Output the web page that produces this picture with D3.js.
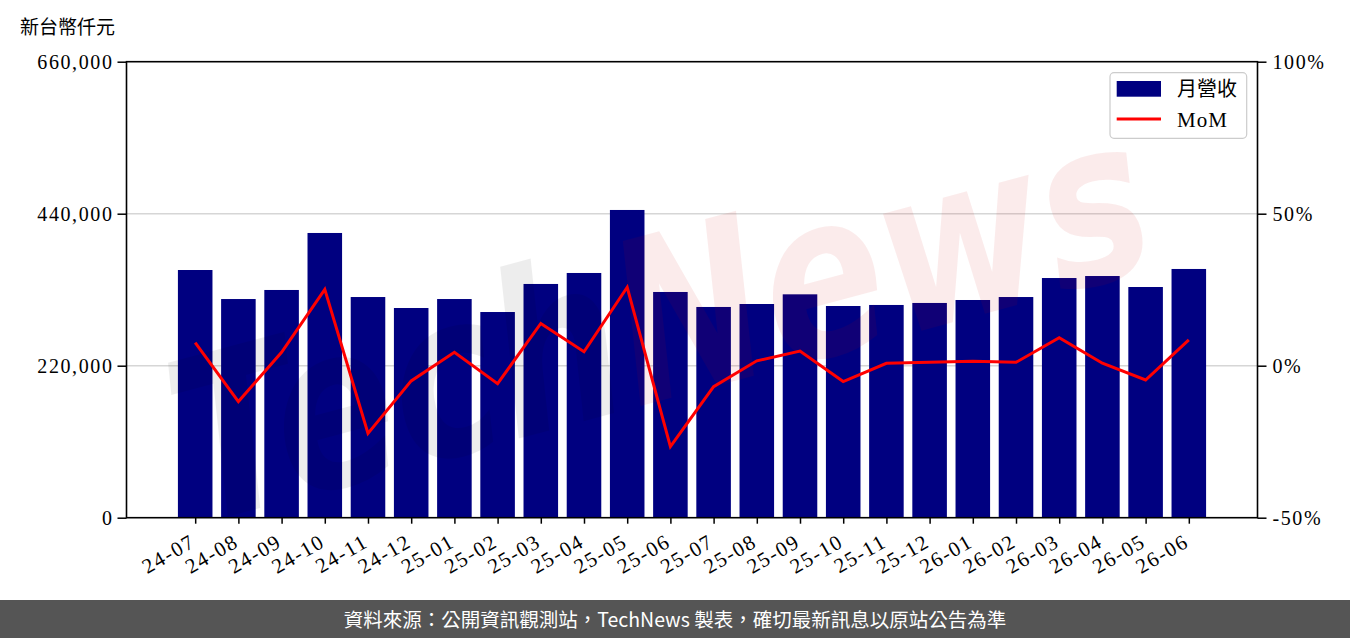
<!DOCTYPE html>
<html>
<head>
<meta charset="utf-8">
<script src="https://cdn.jsdelivr.net/npm/d3@7"></script>
<style>
  html, body { margin: 0; padding: 0; background: #fff; }
  svg { display: block; }
</style>
</head>
<body>
<svg id="chart" width="1350" height="638"></svg>
<script>
// ---- Data ----
const months = ["24-07","24-08","24-09","24-10","24-11","24-12","25-01","25-02","25-03","25-04","25-05","25-06",
                "25-07","25-08","25-09","25-10","25-11","25-12","26-01","26-02","26-03","26-04","26-05","26-06"];
const revenue = [358500, 316500, 329600, 412100, 319400, 303500, 316500, 297700, 338300, 354200, 445400, 326700,
                 305000, 309300, 323300, 306400, 307900, 310800, 315100, 319400, 346900, 349800, 333900, 360000];
const mom = [7.6, -11.8, 4.4, 25.1, -22.3, -5.0, 4.4, -5.9, 13.9, 4.6, 25.8, -26.6,
             -6.9, 1.6, 4.8, -5.2, 0.8, 1.1, 1.5, 1.1, 9.2, 0.8, -4.7, 8.5];
const leftTicks = [0, 220000, 440000, 660000];
const rightTicks = [-50, 0, 50, 100];
const unitLabel = "新台幣仟元";
const legendLabels = ["月營收", "MoM"];
const footerText = "資料來源：公開資訊觀測站，TechNews 製表，確切最新訊息以原站公告為準";
const watermarkParts = ["Tech", "News"];

// ---- Layout ----
const svg = d3.select("#chart");
const plot = { left: 126.5, right: 1257.5, top: 61.7, bottom: 517.7 };
const numFont = "'Liberation Serif', 'Times New Roman', serif";
const cjkFont = "'Noto Sans CJK TC', 'Noto Sans CJK SC', sans-serif";

const x = d3.scaleLinear().domain([-1.59, months.length - 1 + 1.59]).range([plot.left, plot.right]);
const yL = d3.scaleLinear().domain([0, 660000]).range([plot.bottom, plot.top]);
const yR = d3.scaleLinear().domain([-50, 100]).range([plot.bottom, plot.top]);
const barW = x(0.4) - x(-0.4);

// gridlines
svg.append("g").selectAll("line").data(leftTicks.filter(d => d > 0 && d < 660000)).join("line")
  .attr("x1", plot.left).attr("x2", plot.right)
  .attr("y1", d => yL(d)).attr("y2", d => yL(d))
  .attr("stroke", "#d6d6d6").attr("stroke-width", 1.5);

// bars
svg.append("g").selectAll("rect").data(revenue).join("rect")
  .attr("x", (d, i) => x(i) - barW / 2)
  .attr("width", barW)
  .attr("y", d => yL(d))
  .attr("height", d => yL(0) - yL(d))
  .attr("fill", "#000080");

// watermark
const wm = svg.append("text")
  .attr("transform", "translate(660,320) rotate(-15)")
  .attr("text-anchor", "middle")
  .attr("dominant-baseline", "central")
  .attr("font-family", "'DejaVu Sans', sans-serif")
  .attr("font-weight", "bold")
  .attr("font-style", "italic")
  .attr("font-size", 225)
  .attr("textLength", 1000)
  .attr("lengthAdjust", "spacingAndGlyphs");
wm.append("tspan").text(watermarkParts[0]).attr("fill", "#000").attr("fill-opacity", 0.07);
wm.append("tspan").text(watermarkParts[1]).attr("fill", "#d00000").attr("fill-opacity", 0.08);

// MoM line
const line = d3.line().x((d, i) => x(i)).y(d => yR(d));
svg.append("path").datum(mom)
  .attr("d", line)
  .attr("fill", "none")
  .attr("stroke", "#ff0000")
  .attr("stroke-width", 3)
  .attr("stroke-linejoin", "miter");

// axes
const axL = d3.axisLeft(yL).tickValues(leftTicks).tickSize(9).tickPadding(4)
  .tickFormat(d => d3.format(",")(d));
const axR = d3.axisRight(yR).tickValues(rightTicks).tickSize(9).tickPadding(6)
  .tickFormat(d => d + "%");
const axB = d3.axisBottom(x).tickValues(d3.range(months.length)).tickSize(6)
  .tickFormat(i => months[i]);

function styleAxis(g) {
  g.select(".domain").remove();
  g.selectAll(".tick line").attr("stroke", "#000").attr("stroke-width", 1.5);
  g.selectAll("text").attr("fill", "#000").attr("font-family", numFont).attr("font-size", 20)
    .attr("letter-spacing", "1.6px");
}
svg.append("g").attr("transform", `translate(${plot.left},0)`).call(axL).call(styleAxis);
svg.append("g").attr("transform", `translate(${plot.right},0)`).call(axR).call(styleAxis);
const gB = svg.append("g").attr("transform", `translate(0,${plot.bottom})`).call(axB).call(styleAxis);
gB.selectAll("text")
  .attr("text-anchor", "end")
  .attr("dy", null)
  .attr("dominant-baseline", "auto")
  .attr("font-size", 21)
  .attr("transform", "translate(1,28) rotate(-30)")
  .attr("y", 0).attr("x", 0);

// frame
svg.append("rect")
  .attr("x", plot.left).attr("y", plot.top)
  .attr("width", plot.right - plot.left).attr("height", plot.bottom - plot.top)
  .attr("fill", "none").attr("stroke", "#000").attr("stroke-width", 1.6);

// unit label
svg.append("text").attr("x", 20).attr("y", 34)
  .attr("font-family", cjkFont).attr("font-size", 19).attr("fill", "#000")
  .text(unitLabel);

// legend
const lg = svg.append("g");
lg.append("rect").attr("x", 1110).attr("y", 72.7).attr("width", 136.7).attr("height", 65.6)
  .attr("rx", 4).attr("fill", "#fff").attr("fill-opacity", 0.8)
  .attr("stroke", "#cccccc").attr("stroke-width", 1.2);
lg.append("rect").attr("x", 1116.7).attr("y", 81).attr("width", 44.3).attr("height", 15.7).attr("fill", "#000080");
lg.append("line").attr("x1", 1116.7).attr("x2", 1161).attr("y1", 119).attr("y2", 119)
  .attr("stroke", "#ff0000").attr("stroke-width", 3);
lg.append("text").attr("x", 1177).attr("y", 96).attr("font-family", cjkFont).attr("font-size", 20)
  .attr("fill", "#000").text(legendLabels[0]);
lg.append("text").attr("x", 1177).attr("y", 127).attr("font-family", numFont).attr("font-size", 21)
  .attr("letter-spacing", "1px").attr("fill", "#000").text(legendLabels[1]);

// footer
svg.append("rect").attr("x", 0).attr("y", 600).attr("width", 1350).attr("height", 38).attr("fill", "#555555");
svg.append("text").attr("x", 675).attr("y", 626.5).attr("text-anchor", "middle")
  .attr("font-family", cjkFont).attr("font-size", 19.5).attr("fill", "#ffffff")
  .text(footerText);
</script>
</body>
</html>
